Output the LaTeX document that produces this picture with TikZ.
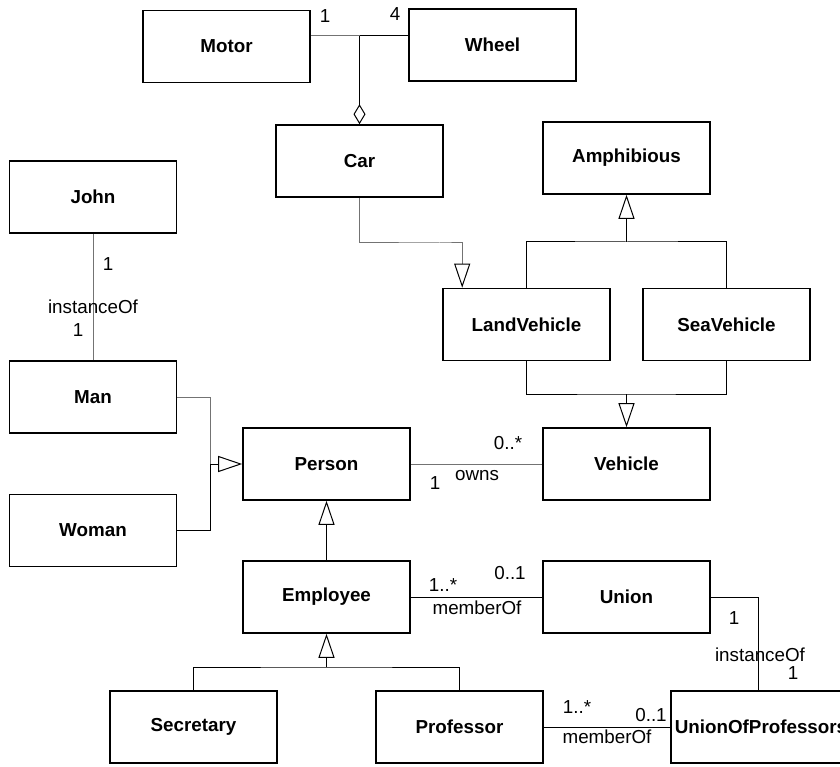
\documentclass[tikz,border=0pt]{standalone}
\usepackage{fontspec}
\setmainfont{Liberation Sans}
\usetikzlibrary{arrows.meta}
\definecolor{linegray}{gray}{0.45}
\tikzset{
  cls/.style={draw, line width=1.6pt, minimum width=167pt, minimum height=72pt,
    inner sep=0pt, font=\fontsize{18.8}{22}\selectfont\bfseries},
  conn/.style={line width=1pt, black},
  soft/.style={line width=1pt, linegray},
  gen/.style={-{Triangle[open, length=24pt, width=16pt, line width=1pt, color=black]}},
  agg/.style={-{Diamond[open, length=20pt, width=12pt, line width=1pt]}},
  lbl/.style={inner sep=0pt, font=\fontsize{18.8}{22}\selectfont}
}
\begin{document}
\begin{tikzpicture}[x=1pt, y=-1pt]
\useasboundingbox (0,0) rectangle (840,767);

% classes
\node[cls] (Motor) at (226.5,46.5) {Motor};
\node[cls] (Wheel) at (492.5,45) {Wheel};
\node[cls] (Car) at (359.5,161) {Car};
\node[cls] (Amphibious) at (626.5,158) {Amphibious};
\node[cls] (John) at (93,197) {John};
\node[cls] (LandVehicle) at (526.5,324.5) {LandVehicle};
\node[cls] (SeaVehicle) at (726.5,324.5) {SeaVehicle};
\node[cls] (Man) at (93,397) {Man};
\node[cls] (Person) at (326.5,464) {Person};
\node[cls] (Vehicle) at (626.5,464) {Vehicle};
\node[cls] (Woman) at (93,530.5) {Woman};
\node[cls] (Employee) at (326.5,597) {Employee};
\node[cls] (Union) at (626.5,597) {Union};
\node[cls] (Secretary) at (193.5,727) {Secretary};
\node[cls] (Professor) at (459.5,727) {Professor};
\node[cls, minimum width=180pt] (UoP) at (761,727) {UnionOfProfessors};

% car aggregation
\coordinate (J) at (359.5,36);
\draw[soft] (Motor.east |- J) -- (J);
\draw[conn] (J) -- (Wheel.west |- J);
\draw[conn, agg] (J) -- (Car.north);
\node[lbl] (m1) at (325,16) {1};
\node[lbl] (w4) at (395,14) {4};

% vehicle hierarchy
\draw[soft, gen] (Car.south) |- (440,243) -| ([xshift=20pt]LandVehicle.north west);
\draw[conn] (LandVehicle.north) |- (626.5,242) -| (SeaVehicle.north);
\draw[conn, gen] (Amphibious.south |- 0,242) -- (Amphibious.south);
\draw[conn] (LandVehicle.south) |- (626.5,394) -| (SeaVehicle.south);
\draw[conn, gen] (Vehicle.north |- 0,394) -- (Vehicle.north);

% John instanceOf Man
\draw[soft] (John.south) -- (Man.north);
\node[lbl] (j1) at (108,264) {1};
\node[lbl] (jinst) at (93,307) {instanceOf};
\node[lbl] (j2) at (78,330) {1};

% Man, Woman -> Person
\coordinate (MW) at (210,464);
\draw[soft] (Man.east) -| (MW);
\draw[conn] (Woman.east) -| (MW);
\draw[conn, gen] (MW) -- (Person.west);

% owns
\draw[soft] (Person.east) -- (Vehicle.west);
\node[lbl] (o1) at (508,443) {0..*};
\node[lbl] (o2) at (477,476) {owns};
\node[lbl] (o3) at (435,483) {1};

% Employee -> Person
\draw[conn, gen] (Employee.north) -- (Person.south);

% Secretary, Professor -> Employee
\draw[conn] (Secretary.north) |- (326.5,667) -| (Professor.north);
\draw[conn, gen] (Employee.south |- 0,667) -- (Employee.south);

% Employee memberOf Union
\draw[conn] (Employee.east) -- (Union.west);
\node[lbl] (e1) at (443,585) {1..*};
\node[lbl] (e2) at (510,573) {0..1};
\node[lbl] (e3) at (477,608) {memberOf};

% UnionOfProfessors instanceOf Union
\draw[conn] (Union.east) -| ([xshift=88pt]UoP.north west);
\node[lbl] (u1) at (734,618) {1};
\node[lbl] (u2) at (760,655) {instanceOf};
\node[lbl] (u3) at (793,673) {1};

% Professor memberOf UnionOfProfessors
\draw[conn] (Professor.east) -- (UoP.west);
\node[lbl] (p1) at (577,707) {1..*};
\node[lbl] (p2) at (651,715) {0..1};
\node[lbl] (p3) at (607,737) {memberOf};
\end{tikzpicture}
\end{document}
